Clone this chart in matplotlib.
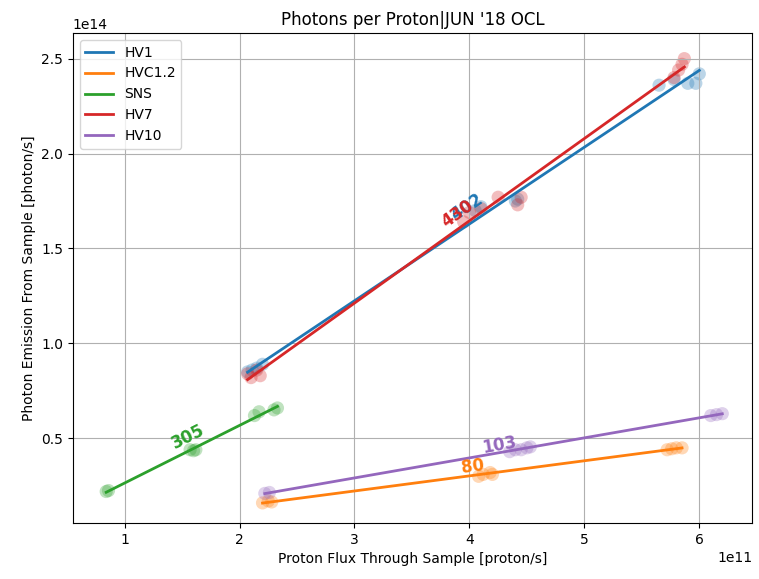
import numpy as np
import matplotlib
matplotlib.use("Agg")
import matplotlib.pyplot as plt

series_names = ["HV1", "HVC1.2", "SNS", "HV7", "HV10"]
colors = ["#1f77b4", "#ff7f0e", "#2ca02c", "#d62728", "#9467bd"]

# proton flux (x, units of 1e11) and photon emission (y, units of 1e14)
hv1_x = [2.07, 2.11, 2.15, 2.20, 4.05, 4.10, 4.40, 4.42, 5.65, 5.78, 5.90, 5.97, 6.00]
hv1_y = [0.85, 0.86, 0.87, 0.89, 1.70, 1.72, 1.75, 1.76, 2.36, 2.39, 2.37, 2.37, 2.42]
hvc_x = [2.20, 2.25, 2.28, 4.08, 4.12, 4.18, 4.20, 5.72, 5.76, 5.80, 5.85]
hvc_y = [0.16, 0.17, 0.165, 0.30, 0.31, 0.32, 0.31, 0.44, 0.445, 0.45, 0.45]
sns_x = [0.84, 0.86, 1.57, 1.60, 1.62, 2.13, 2.17, 2.30, 2.33]
sns_y = [0.22, 0.225, 0.44, 0.435, 0.44, 0.62, 0.64, 0.65, 0.66]
hv7_x = [2.07, 2.10, 2.15, 2.18, 3.95, 4.00, 4.10, 4.25, 4.42, 4.45, 5.78, 5.82, 5.85, 5.87]
hv7_y = [0.84, 0.82, 0.86, 0.83, 1.64, 1.69, 1.71, 1.77, 1.73, 1.77, 2.40, 2.44, 2.47, 2.50]
hv10_x = [2.22, 2.26, 4.35, 4.40, 4.45, 4.50, 4.53, 6.10, 6.15, 6.20]
hv10_y = [0.21, 0.215, 0.43, 0.44, 0.44, 0.45, 0.455, 0.62, 0.625, 0.63]

xs = [hv1_x, hvc_x, sns_x, hv7_x, hv10_x]
ys = [hv1_y, hvc_y, sns_y, hv7_y, hv10_y]

slope_labels = ["402", "80", "305", "430", "103"]
label_x = [3.98, 4.03, 1.55, 3.90, 4.26]
label_y = [1.716, 0.353, 0.51, 1.684, 0.463]

fig = plt.figure(figsize=(7.59, 5.79), dpi=100)
ax = fig.add_axes([0.096, 0.097, 0.895, 0.846])

for name, c, x, y in zip(series_names, colors, xs, ys):
    x = np.array(x) * 1e11
    y = np.array(y) * 1e14
    ax.scatter(x, y, s=90, color=c, alpha=0.3, edgecolors="none")
    p = np.polyfit(x, y, 1)
    xl = np.array([x.min(), x.max()])
    ax.plot(xl, np.polyval(p, xl), color=c, lw=2, label=name)

ax.set_xlim(0.55e11, 6.46e11)
ax.set_ylim(0.055e14, 2.635e14)
fig.canvas.draw()

for c, x, y, lab, lx, ly in zip(colors, xs, ys, slope_labels, label_x, label_y):
    x = np.array(x) * 1e11
    y = np.array(y) * 1e14
    p = np.polyfit(x, y, 1)
    p0 = ax.transData.transform((x.min(), np.polyval(p, x.min())))
    p1 = ax.transData.transform((x.max(), np.polyval(p, x.max())))
    ang = np.degrees(np.arctan2(p1[1] - p0[1], p1[0] - p0[0]))
    ax.text(lx * 1e11, ly * 1e14, lab, color=c, fontsize=12, fontweight="bold",
            rotation=ang, rotation_mode="anchor", ha="center", va="center")

ax.grid(True)
ax.set_title("Photons per Proton|JUN '18 OCL")
ax.set_xlabel("Proton Flux Through Sample [proton/s]")
ax.set_ylabel("Photon Emission From Sample [photon/s]")
ax.legend(loc="upper left")

fig.savefig("out.png", dpi=100)
